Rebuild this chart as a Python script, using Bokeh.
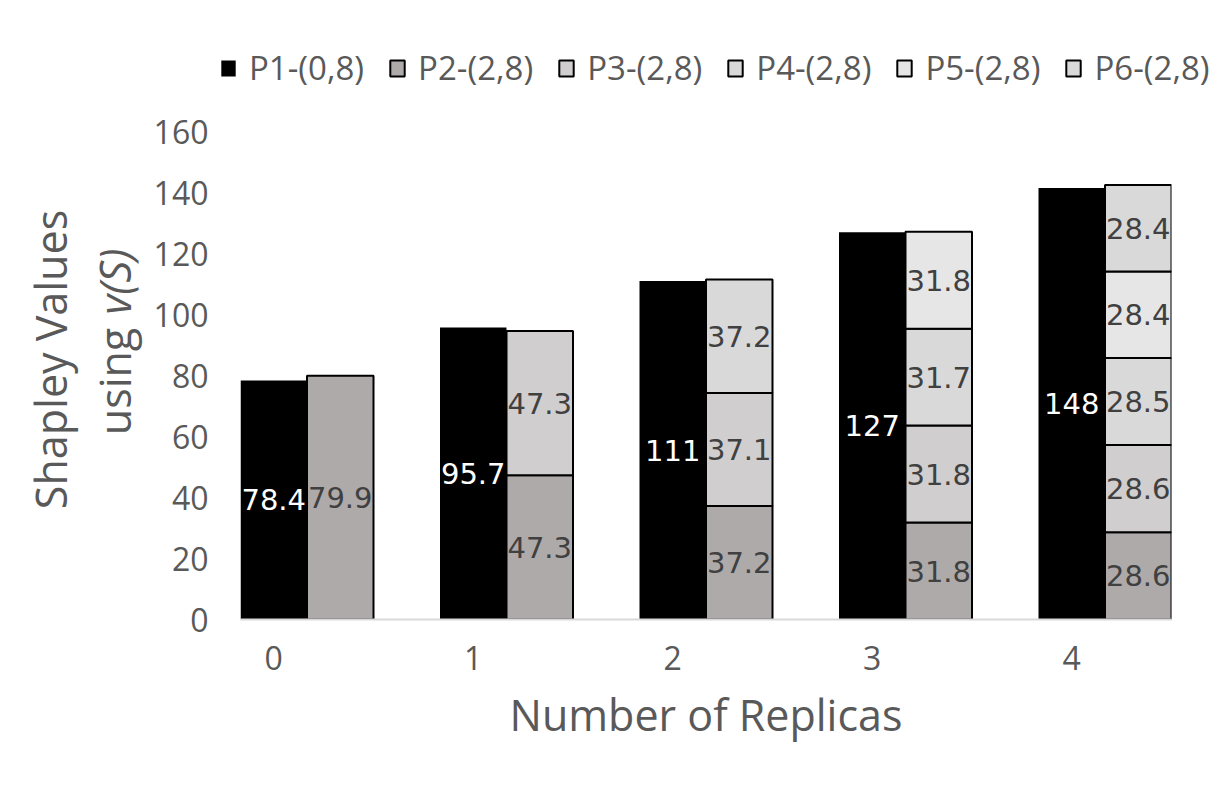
import numpy as np
from bokeh.plotting import figure
from bokeh.layouts import row, column
from bokeh.models import ColumnDataSource, Range1d, FixedTicker, Legend, LegendItem, Label
from bokeh.core.properties import value
from bokeh.embed import file_html
from bokeh.resources import INLINE

# ---- data ----
replicas = [0, 1, 2, 3, 4]
x_labels = ["0", "1", "2", "3", "4"]
y_ticks = [0, 20, 40, 60, 80, 100, 120, 140, 160]
p1_vals = [78.4, 95.7, 111.0, 127.0, 141.5]
p1_text = ["78.4", "95.7", "111", "127", "148"]
p2_vals = [79.9, 47.3, 37.2, 31.8, 28.6]
p3_vals = [0, 47.3, 37.1, 31.8, 28.6]
p4_vals = [0, 0, 37.2, 31.7, 28.5]
p5_vals = [0, 0, 0, 31.8, 28.4]
p6_vals = [0, 0, 0, 0, 28.4]
series_names = ["P1-(0,8)", "P2-(2,8)", "P3-(2,8)", "P4-(2,8)", "P5-(2,8)", "P6-(2,8)"]
colors = ["#000000", "#AEAAAA", "#D0CECE", "#D9D9D9", "#E7E6E6", "#D9D9D9"]

BAR_W = 1.0 / 3.0
TEXT_GRAY = "#595959"
LABEL_GRAY = "#404040"
LEFT_W = 146


def blank_fig(w, h, y0=0, y1=None):
    f = figure(width=w, height=h, x_range=Range1d(0, w),
               y_range=Range1d(y0, h if y1 is None else y1),
               x_axis_type=None, y_axis_type=None, output_backend="svg",
               toolbar_location=None, min_border=0, title=None)
    f.outline_line_color = None
    f.background_fill_color = "white"
    return f


# ---------- main chart ----------
p = figure(width=1211 - LEFT_W, height=688,
           x_range=Range1d(-BAR_W / 2, 4 + 1.5 * BAR_W),
           y_range=Range1d(0, 160),
           output_backend="svg", toolbar_location=None, title=None,
           min_border_left=240 - LEFT_W, min_border_right=40,
           min_border_top=31, min_border_bottom=169)
p.outline_line_color = None
p.xgrid.visible = False
p.ygrid.visible = False
p.background_fill_color = "white"

x_arr = np.array(replicas, dtype=float)
src1 = ColumnDataSource(dict(x=x_arr, top=p1_vals, ymid=np.array(p1_vals) / 2, txt=p1_text))
p.vbar(x="x", top="top", bottom=0, width=BAR_W, source=src1,
       fill_color=colors[0], line_color=None)
p.text(x="x", y="ymid", text="txt", source=src1, text_align="center",
       text_baseline="middle", text_color="white",
       text_font=value("DejaVu Sans"), text_font_size="29px")

stack = [p2_vals, p3_vals, p4_vals, p5_vals, p6_vals]
bottom = np.zeros(len(replicas))
for i, vals in enumerate(stack):
    v = np.array(vals, dtype=float)
    mask = v > 0
    src = ColumnDataSource(dict(
        x=(x_arr + BAR_W)[mask], bottom=bottom[mask], top=(bottom + v)[mask],
        ymid=(bottom + v / 2)[mask], txt=[f"{a:.1f}" for a in v[mask]]))
    p.vbar(x="x", bottom="bottom", top="top", width=BAR_W, source=src,
           fill_color=colors[i + 1], line_color="black", line_width=2)
    p.text(x="x", y="ymid", text="txt", source=src, text_align="center",
           text_baseline="middle", text_color=LABEL_GRAY,
           text_font=value("DejaVu Sans"), text_font_size="29px")
    bottom = bottom + v

p.xaxis.ticker = FixedTicker(ticks=replicas)
p.xaxis.major_label_overrides = {k: s for k, s in zip(replicas, x_labels)}
p.xaxis.axis_line_color = "#D9D9D9"
p.xaxis.axis_line_width = 2
p.xaxis.major_tick_line_color = None
p.xaxis.minor_tick_line_color = None
p.xaxis.major_tick_out = 0
p.xaxis.major_label_standoff = 26
p.xaxis.major_label_text_font = "Open Sans"
p.xaxis.major_label_text_font_size = "32px"
p.xaxis.major_label_text_color = TEXT_GRAY
p.xaxis.axis_label = "Number of Replicas"
p.xaxis.axis_label_text_font = "Open Sans"
p.xaxis.axis_label_text_font_size = "43px"
p.xaxis.axis_label_text_font_style = "normal"
p.xaxis.axis_label_text_color = TEXT_GRAY
p.xaxis.axis_label_standoff = 12

p.yaxis.ticker = FixedTicker(ticks=y_ticks)
p.yaxis.axis_line_color = None
p.yaxis.major_tick_line_color = None
p.yaxis.minor_tick_line_color = None
p.yaxis.major_tick_out = 0
p.yaxis.major_label_standoff = 32
p.yaxis.major_label_text_font = "Open Sans"
p.yaxis.major_label_text_font_size = "32px"
p.yaxis.major_label_text_color = TEXT_GRAY

# ---------- y-axis title (left strip; its frame is aligned with the main frame) ----------
# y data = 788 - page_y over the aligned frame (page 131..619)
left = blank_fig(LEFT_W, 688, y0=169, y1=657)
lab_kw = dict(angle=np.pi / 2, text_baseline="middle", text_align="center",
              text_font="Open Sans", text_font_size="43px", text_color=TEXT_GRAY)
left.add_layout(Label(x=50, y=429, text="Shapley Values", **lab_kw))
left.add_layout(Label(x=114, y=407, text="using", **lab_kw))
left.add_layout(Label(x=114, y=507, text="v(S)", text_font_style="italic", **lab_kw))

# ---------- legend (top strip) ----------
top = blank_fig(1211, 100)
leg_renderers = []
for i, c in enumerate(colors):
    if i == 0:
        r = top.vbar(x=[np.nan], top=[np.nan], width=0.3, fill_color=c, line_color=None)
    else:
        r = top.vbar(x=[np.nan], top=[np.nan], width=0.3, fill_color=c,
                     line_color="black", line_width=2)
    leg_renderers.append(r)
items = [LegendItem(label=n, renderers=[r]) for n, r in zip(series_names, leg_renderers)]
legend = Legend(items=items, orientation="horizontal", location=(219, 10),
                glyph_width=18, glyph_height=20, label_standoff=12, spacing=24,
                padding=0, margin=0, border_line_color=None, background_fill_alpha=0,
                label_text_font="Open Sans", label_text_font_size="33px",
                label_text_color=TEXT_GRAY)
top.add_layout(legend)

layout = column(top, row(left, p))
open("out.html", "w").write(file_html(layout, INLINE))
